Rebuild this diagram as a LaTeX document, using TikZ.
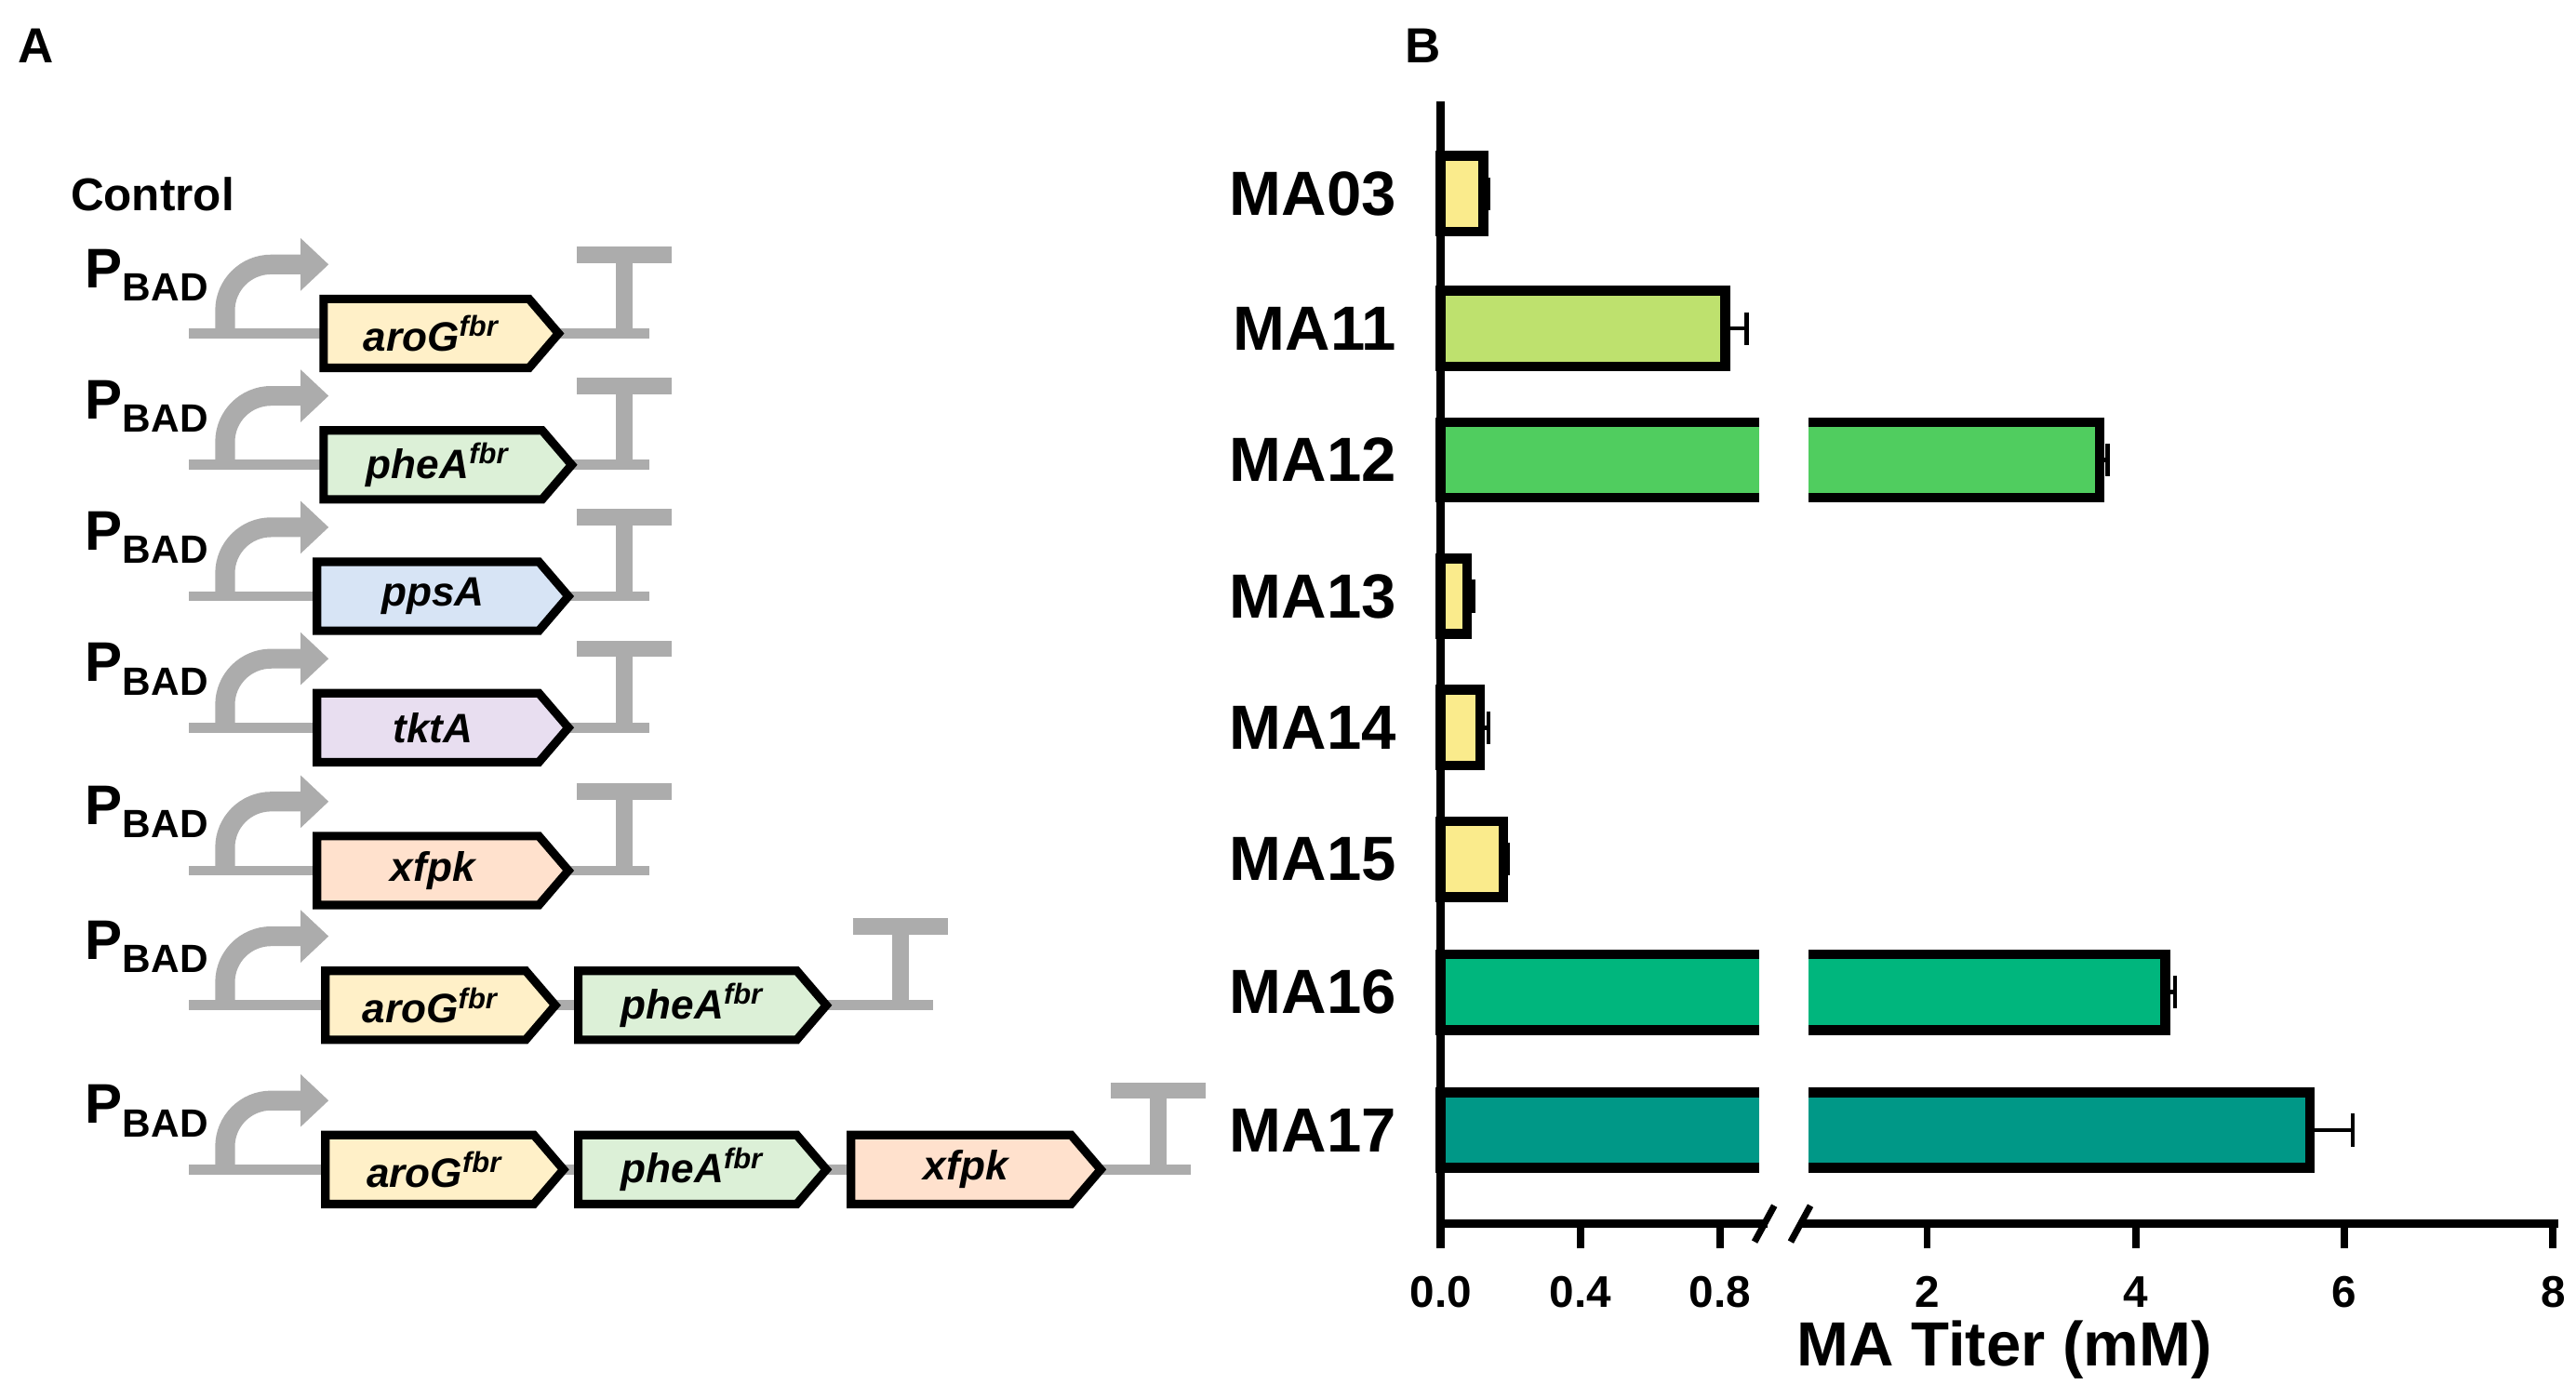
\documentclass[tikz,border=0pt]{standalone}
\usepackage{fontspec}
\setmainfont{Liberation Sans}
\begin{document}
\begin{tikzpicture}[x=0.5pt,y=-0.5pt,
  bb/.style={line width=3pt,line cap=rect},
  gl/.style={draw=gray!65,line width=3pt},
  gene/.style={draw=black,line width=2.6pt,line join=miter},
  gtxt/.style={font=\fontsize{12.5}{13}\selectfont\bfseries\itshape},
  lab/.style={font=\fontsize{19}{20}\selectfont\bfseries,anchor=east},
  tick/.style={font=\fontsize{13.5}{14}\selectfont\bfseries,anchor=north},
  pb/.style={font=\fontsize{17}{18}\selectfont\bfseries,anchor=base west}]
\useasboundingbox (0,0) rectangle (1568,851);
\definecolor{cA}{RGB}{255,240,200}
\definecolor{cB}{RGB}{220,240,215}
\definecolor{cC}{RGB}{215,228,245}
\definecolor{cD}{RGB}{232,222,240}
\definecolor{cE}{RGB}{255,225,205}
\definecolor{yel}{RGB}{250,235,140}
\definecolor{lg}{RGB}{190,225,110}
\definecolor{gr}{RGB}{80,205,95}
\definecolor{tq}{RGB}{0,182,125}
\definecolor{tl}{RGB}{0,152,135}
\newcommand{\gn}[6]{% name,x1,x2,y,color,text
  \fill[#5] (#2,#4-21)--(#3-18,#4-21)--(#3,#4)--(#3-18,#4+21)--(#2,#4+21)--cycle;
  \draw[gene] (#2,#4-21)--(#3-18,#4-21)--(#3,#4)--(#3-18,#4+21)--(#2,#4+21)--cycle;
  \node[gtxt] (#1) at ({(#2+#3)/2-6},#4) {#6};}
\newcommand{\prom}[2]{% x0 line start, y
  \node[pb] at (45,#2-28) {P\raisebox{-0.45ex}{\fontsize{12}{12}\selectfont BAD}};
  \draw[gray!65,line width=6pt,rounded corners=14pt] (137,#2) -- (137,#2-42) -- (185,#2-42);
  \fill[gray!65] (183,#2-58) -- (200,#2-42) -- (183,#2-26) -- cycle;}
\newcommand{\term}[2]{%
  \draw[gray!65,line width=5pt] (#1,#2) -- (#1,#2-48);
  \draw[gray!65,line width=5pt] (#1-29,#2-48) -- (#1+29,#2-48);}
% panel A
\node[font=\fontsize{15}{16}\selectfont\bfseries] (A) at (22,28) {A};
\node[font=\fontsize{15}{16}\selectfont\bfseries] (B) at (866,28) {B};
\node[font=\fontsize{14}{15}\selectfont\bfseries,anchor=west] (ctl) at (36,118) {Control};
% rows 1-5
\foreach \y/\xa/\xb/\c/\t [count=\i] in {203/197/340/cA/aroG\textsuperscript{fbr},283/197/348/cB/pheA\textsuperscript{fbr},363/193/346/cC/ppsA,443/193/346/cD/tktA,530/193/346/cE/xfpk}{
  \draw[gl] (115,\y) -- (395,\y);
  \prom{115}{\y}
  \term{380}{\y}
  \gn{g\i}{\xa}{\xb}{\y}{\c}{\t}
}
% row 6
\draw[gl] (115,612) -- (568,612);
\prom{115}{612}\term{548}{612}
\gn{g6a}{198}{338}{612}{cA}{aroG\textsuperscript{fbr}}
\gn{g6b}{352}{503}{612}{cB}{pheA\textsuperscript{fbr}}
% row 7
\draw[gl] (115,712) -- (725,712);
\prom{115}{712}\term{705}{712}
\gn{g7a}{198}{343}{712}{cA}{aroG\textsuperscript{fbr}}
\gn{g7b}{352}{503}{712}{cB}{pheA\textsuperscript{fbr}}
\gn{g7c}{518}{670}{712}{cE}{xfpk}
% panel B bars
\foreach \y/\e/\err/\c/\l in {118/903/906/yel/MA03,200/1050/1063/lg/MA11,280/1278/1283/gr/MA12,363/893/897/yel/MA13,443/901/906/yel/MA14,523/915/918/yel/MA15,604/1318/1324/tq/MA16,688/1406/1432/tl/MA17}{
  \draw[line width=1.3pt] (\e,\y) -- (\err,\y) (\err,\y-10) -- (\err,\y+10);
  \draw[bb,fill=\c] (877,\y-23) rectangle (\e,\y+23);
  \node[lab] (l\l) at (857,\y) {\l};
}
\foreach \y in {280,604,688}{\fill[white] (1071,\y-30) rectangle (1101,\y+30);}
% axes
\draw[line width=2.6pt] (877,62) -- (877,760);
\draw[line width=2.6pt] (877,745) -- (1076,745) (1096,745) -- (1557,745);
\fill[white] (1076,738) rectangle (1096,752);
\draw[line width=2pt] (1068,756) -- (1080,734) (1090,756) -- (1102,734);
\foreach \x/\t in {877/0.0,962/0.4,1047/0.8,1173/2,1300/4,1427/6,1554/8}{
  \draw[line width=2.2pt] (\x,745) -- (\x,760);
  \node[tick] at (\x,770) {\t};}
\node[font=\fontsize{19}{20}\selectfont\bfseries] (xt) at (1220,822) {MA Titer (mM)};
\end{tikzpicture}
\end{document}
